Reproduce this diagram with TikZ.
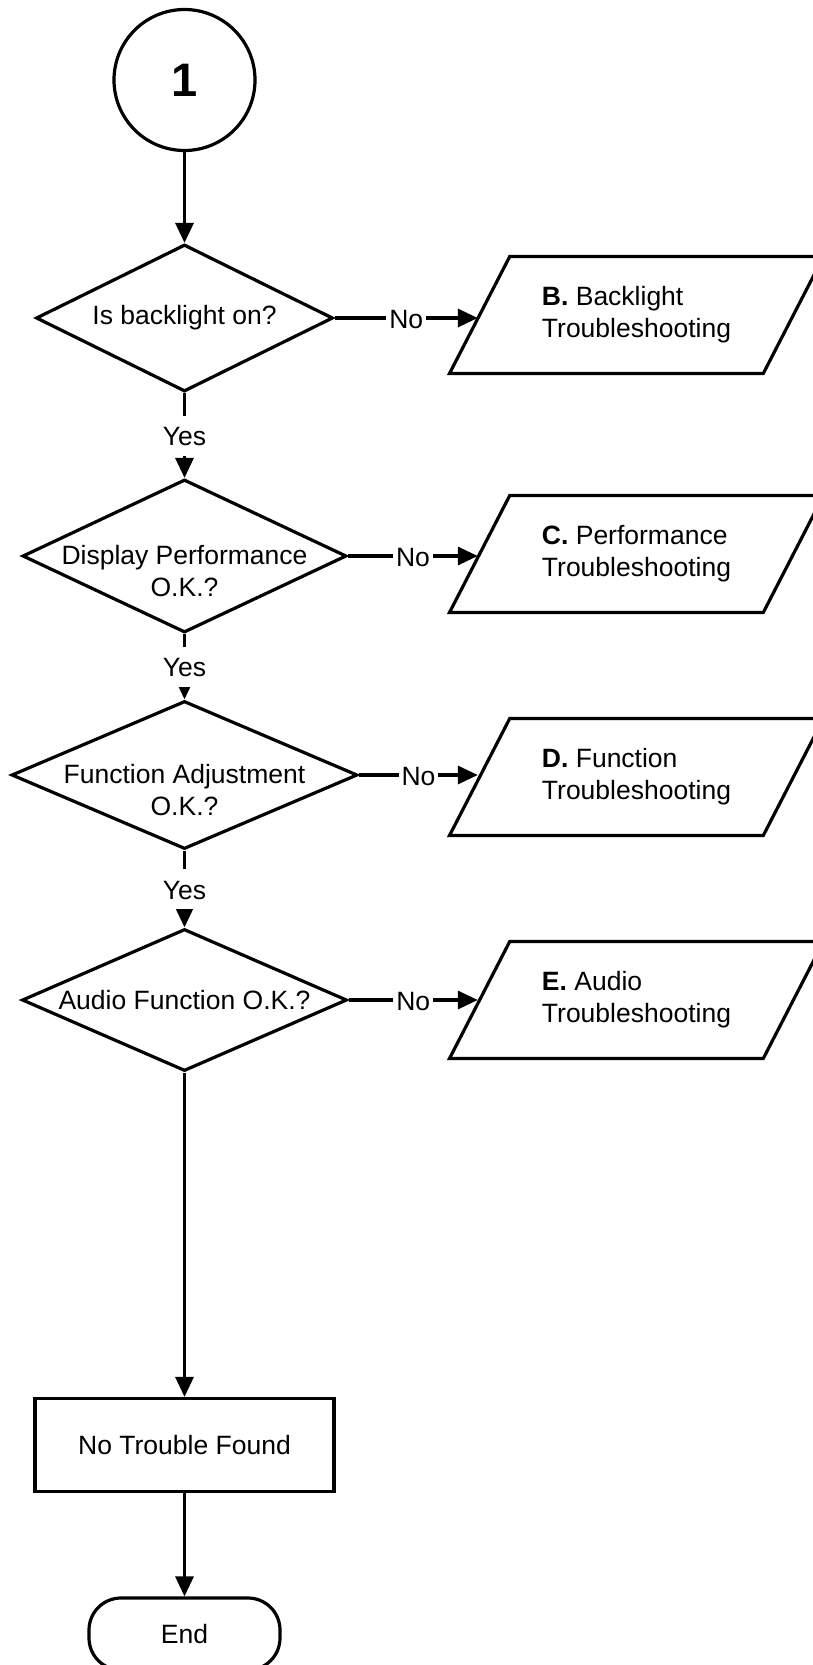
\documentclass[tikz,border=0pt]{standalone}
\usepackage{fontspec}
\setmainfont{Liberation Sans}
\usetikzlibrary{shapes.geometric, arrows.meta, positioning}

\tikzset{
  outline/.style={draw, line width=3.2pt, inner sep=0pt, font=\fontsize{26.5pt}{32pt}\selectfont},
  connector/.style={outline, circle, minimum size=141pt, font=\bfseries\fontsize{47pt}{50pt}\selectfont},
  decision/.style={outline, diamond},
  qtext/.style={inner sep=0pt, align=center, font=\fontsize{26.5pt}{32pt}\selectfont},
  io/.style={outline, trapezium, trapezium left angle=62.7, trapezium right angle=117.3,
    trapezium stretches body, inner ysep=30pt, minimum width=374pt, minimum height=117pt, align=left},
  process/.style={outline, rectangle, minimum width=299pt, minimum height=93pt},
  terminal/.style={outline, rectangle, rounded corners=32pt, minimum width=191pt, minimum height=72pt},
  flow/.style={line width=3.2pt, -{Triangle[length=20pt,width=18pt]}},
  tag/.style={fill=white, inner xsep=3pt, inner ysep=0pt, text height=30pt, text depth=10pt,
    font=\fontsize{26.5pt}{32pt}\selectfont}
}

\begin{document}
\begin{tikzpicture}[x=1pt, y=-1pt]
  \useasboundingbox (0,0) rectangle (813,1665);
  \clip (0,0) rectangle (813,1665);

  \node[connector] (start) at (184.5,80) {1};

  \node[decision, minimum width=297pt, minimum height=147pt] (q1) at (184.5,318) {};
  \node[qtext] (q1t) at (q1.center) {Is backlight on?};
  \node[decision, minimum width=324pt, minimum height=153pt] (q2) at (184.5,556) {};
  \node[qtext] (q2t) at ([yshift=-15pt]q2.center) {Display Performance\\O.K.?};
  \node[decision, minimum width=346pt, minimum height=148pt] (q3) at (184.5,775) {};
  \node[qtext] (q3t) at ([yshift=-15pt]q3.center) {Function Adjustment\\O.K.?};
  \node[decision, minimum width=325pt, minimum height=142pt] (q4) at (184.5,1000) {};
  \node[qtext] (q4t) at (q4.center) {Audio Function O.K.?};

  \node[io] (pB) at (636.5,315) {\textbf{B.} Backlight\\Troubleshooting};
  \node[io] (pC) at (636.5,554) {\textbf{C.} Performance\\Troubleshooting};
  \node[io] (pD) at (636.5,777) {\textbf{D.} Function\\Troubleshooting};
  \node[io] (pE) at (636.5,1000) {\textbf{E.} Audio\\Troubleshooting};

  \node[process] (ntf) at (184.5,1445) {No Trouble Found};
  \node[terminal] (stop) at (184.5,1634) {End};

  \draw[flow] (start) -- (q1);
  \draw[flow] (q1) -- node[tag] {Yes} (q2);
  \draw[flow] (q2) -- node[tag] {Yes} (q3);
  \draw[flow] (q3) -- node[tag] {Yes} (q4);
  \draw[flow] (q4) -- (ntf);
  \draw[flow] (ntf) -- (stop);

  \draw[flow] (q1.east) -- node[tag] {No} (q1.east -| pB.west);
  \draw[flow] (q2.east) -- node[tag] {No} (q2.east -| pC.west);
  \draw[flow] (q3.east) -- node[tag] {No} (q3.east -| pD.west);
  \draw[flow] (q4.east) -- node[tag] {No} (q4.east -| pE.west);
\end{tikzpicture}
\end{document}
